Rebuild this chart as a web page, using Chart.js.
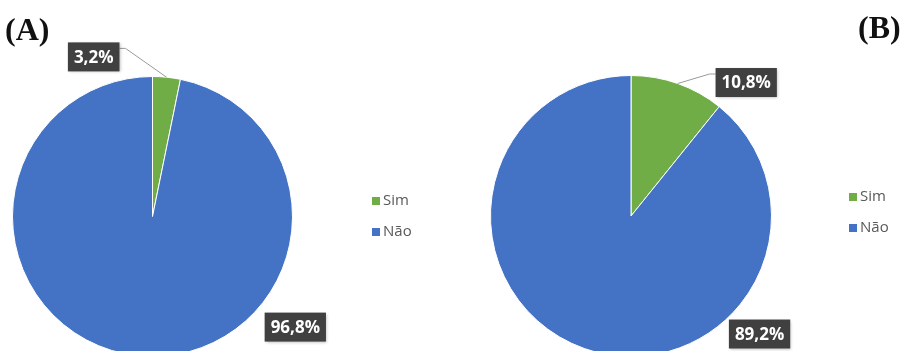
<!DOCTYPE html>
<html>
<head>
<meta charset="utf-8">
<script src="https://cdn.jsdelivr.net/npm/chart.js@4.4.0/dist/chart.umd.min.js"></script>
<style>
    html, body { margin: 0; padding: 0; background: #fff; overflow: hidden; }
    #wrap { position: relative; width: 910px; height: 351px; overflow: hidden; }
    .box { position: absolute; top: 0; width: 455px; height: 370px; }
    .tag { position: absolute; font-family: "Liberation Serif", "DejaVu Serif", serif; font-weight: bold; font-size: 32px; color: #111; line-height: 1; }
</style>
</head>
<body>
<div id="wrap">
    <div class="box" style="left:0"><canvas id="pieA" width="455" height="370"></canvas></div>
    <div class="box" style="left:455px"><canvas id="pieB" width="455" height="370"></canvas></div>
    <div class="tag" style="left:5px;top:13px">(A)</div>
    <div class="tag" style="left:858px;top:11px">(B)</div>
</div>
<script>
// Data
const categories = ['Sim', 'Não'];
const valuesA = [3.2, 96.8];
const valuesB = [10.8, 89.2];
const colors = ['#70AD47', '#4472C4'];

function fmt(v) {
    return v.toFixed(1).replace('.', ',') + '%';
}

// draws the dark label boxes, leader lines and the little legend
const labelPlugin = {
    id: 'excelLabels',
    afterDraw(chart, args, opts) {
        const ctx = chart.ctx;
        const meta = chart.getDatasetMeta(0);
        const values = chart.data.datasets[0].data;
        ctx.save();
        ctx.font = 'bold 17px "Open Sans"';
        ctx.textAlign = 'center';
        ctx.textBaseline = 'middle';
        meta.data.forEach((arc, i) => {
            const r = arc.outerRadius;
            const pos = opts.spots[i];
            const cx = arc.x + pos[0] * r;
            const cy = arc.y + pos[1] * r;
            const text = fmt(values[i]);
            const w = ctx.measureText(text).width + 12;
            const h = 29;
            if (pos[2]) {
                // leader line to middle of the slice edge
                const mid = (arc.startAngle + arc.endAngle) / 2;
                const ex = arc.x + Math.cos(mid) * r;
                const ey = arc.y + Math.sin(mid) * r;
                const side = ex > cx ? 1 : -1;
                const bx = cx + side * w / 2;
                const by = cy - h / 2 + 6;
                ctx.strokeStyle = '#9a9a9a';
                ctx.lineWidth = 1;
                ctx.beginPath();
                ctx.moveTo(bx, by);
                ctx.lineTo(bx + side * 6, by);
                ctx.lineTo(ex, ey);
                ctx.stroke();
            }
            ctx.fillStyle = '#404040';
            ctx.shadowColor = 'rgba(0,0,0,0.25)';
            ctx.shadowBlur = 3;
            ctx.shadowOffsetX = 1;
            ctx.shadowOffsetY = 1;
            ctx.fillRect(cx - w / 2, cy - h / 2, w, h);
            ctx.shadowColor = 'transparent';
            ctx.fillStyle = '#ffffff';
            ctx.fillText(text, cx, cy + 1);
        });

        // legend
        ctx.font = '15px "Open Sans"';
        ctx.textAlign = 'left';
        categories.forEach((c, i) => {
            const x = opts.legend[0];
            const y = opts.legend[1] + i * 31;
            ctx.fillStyle = colors[i];
            ctx.fillRect(x, y - 4, 8, 8);
            ctx.fillStyle = '#595959';
            ctx.fillText(c, x + 11, y);
        });
        ctx.restore();
    }
};

function makePie(id, values, padding, spots, legend) {
    return new Chart(document.getElementById(id), {
        type: 'pie',
        data: {
            labels: categories,
            datasets: [{
                data: values,
                backgroundColor: colors,
                borderColor: '#ffffff',
                borderWidth: 1,
            }],
        },
        options: {
            responsive: false,
            animation: false,
            layout: { padding: padding },
            plugins: {
                legend: { display: false },
                tooltip: { enabled: false },
                excelLabels: { spots: spots, legend: legend },
            },
        },
        plugins: [labelPlugin],
    });
}

makePie('pieA', valuesA,
    { left: 12, right: 162, top: 76, bottom: 13 },
    [[-0.42, -1.14, true], [1.02, 0.79, false]],
    [372, 201]);

makePie('pieB', valuesB,
    { left: 35, right: 138, top: 75, bottom: 13 },
    [[0.82, -0.95, true], [0.915, 0.84, false]],
    [394, 197]);
</script>
</body>
</html>
